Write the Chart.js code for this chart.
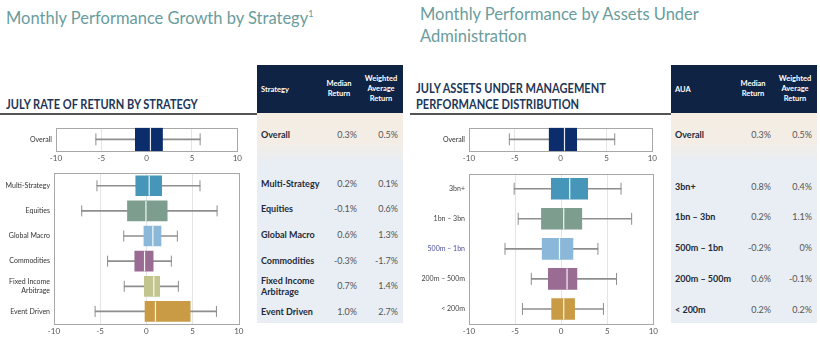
<!DOCTYPE html>
<html>
<head>
<meta charset="utf-8">
<script src="https://cdn.jsdelivr.net/npm/chart.js@4.4.1/dist/chart.umd.min.js"></script>
<style>
  body { margin: 0; background: #fff; overflow: hidden; }
  #page { position: relative; width: 820px; height: 339px; font-family: Lato, "Open Sans", sans-serif; }
  .title { position: absolute; color: #6a9c9d; font-size: 16.5px; font-weight: 400; line-height: 22px; white-space: nowrap; }
  .title sup { font-size: 9px; }
  .head { position: absolute; color: #1d3657; font-size: 13px; font-weight: 700; line-height: 16px; white-space: nowrap;
          transform: scaleX(0.85); transform-origin: left top; }
  .rule { position: absolute; height: 1.5px; background: #555; }
  canvas { position: absolute; }
  .tbl { position: absolute; width: 146px; }
  .thead { position: absolute; left: 0; top: 0; width: 100%; height: 48px; background: #0f2344; color: #fff; font-size: 7.5px; font-weight: 700; }
  .thead div { position: absolute; line-height: 10px; text-align: center; }
  .tbody { position: absolute; left: 0; top: 48px; width: 100%; height: 210px;
           background: linear-gradient(#f5ede3 0px, #f3ede6 30px, #e8eef4 50px, #e8eef4 100%); }
  .cell { position: absolute; font-size: 9px; line-height: 11px; white-space: nowrap; }
  .lab { left: 4px; font-weight: 700; color: #1e2b3a; }
  .val { color: #555; text-align: right; }
</style>
</head>
<body>
<div id="page">
  <div class="title" style="left:6px; top:3px">Monthly Performance Growth by Strategy<sup>1</sup></div>
  <div class="title" style="left:420px; top:3px">Monthly Performance by Assets Under<br>Administration</div>
  <div class="head" style="left:6px; top:96px">JULY RATE OF RETURN BY STRATEGY</div>
  <div class="head" style="left:416px; top:80px">JULY ASSETS UNDER MANAGEMENT<br>PERFORMANCE DISTRIBUTION</div>
  <div class="rule" style="left:0; top:113px; width:258px"></div>
  <div class="rule" style="left:410px; top:113px; width:262px"></div>

  <canvas id="c1"></canvas>
  <canvas id="c2"></canvas>
  <canvas id="c3"></canvas>
  <canvas id="c4"></canvas>

  <div class="tbl" id="t1" style="left:257px; top:65px"></div>
  <div class="tbl" id="t2" style="left:671px; top:65px"></div>
</div>

<script>
// overall distribution (both panels)
let overallLabel = ['Overall'];
let overallMin = [-5.6];
let overallQ1 = [-1.25];
let overallMed = [0.42];
let overallQ3 = [1.75];
let overallMax = [5.9];

// by strategy
let strategies = ['Multi-Strategy', 'Equities', 'Global Macro', 'Commodities', 'Fixed Income Arbitrage', 'Event Driven'];
let stratMin = [-5.35, -7.0, -2.45, -4.2, -2.4, -5.55];
let stratQ1 = [-1.15, -2.05, -0.27, -1.26, -0.23, -0.15];
let stratMed = [0.3, -0.05, 0.7, -0.2, 0.8, 0.98];
let stratQ3 = [1.65, 2.25, 1.58, 0.73, 1.44, 4.74];
let stratMax = [5.8, 7.65, 3.35, 2.7, 3.46, 7.58];
let stratColors = ['#4596b9', '#7d9e8e', '#8bb8d8', '#9a6b93', '#c3c58f', '#c99b45'];

// by assets under administration
let auaBands = ['3bn+', '1bn – 3bn', '500m – 1bn', '200m – 500m', '< 200m'];
let auaMin = [-5.1, -4.66, -6.09, -3.24, -4.2];
let auaQ1 = [-1.07, -2.14, -2.06, -1.39, -1.03];
let auaMed = [0.93, 0.28, -0.18, 0.64, 0.28];
let auaQ3 = [2.88, 2.24, 1.28, 1.71, 1.46];
let auaMax = [6.5, 7.65, 3.99, 6.01, 4.59];
let auaColors = ['#4596b9', '#7d9e8e', '#8bb8d8', '#9a6b93', '#c99b45'];

let xTicks = [-10, -5, 0, 5, 10];

// table figures
let stratTableMedian = ['0.3%', '0.2%', '-0.1%', '0.6%', '-0.3%', '0.7%', '1.0%'];
let stratTableWeighted = ['0.5%', '0.1%', '0.6%', '1.3%', '-1.7%', '1.4%', '2.7%'];
let auaTableMedian = ['0.3%', '0.8%', '0.2%', '-0.2%', '0.6%', '0.2%'];
let auaTableWeighted = ['0.5%', '0.4%', '1.1%', '0%', '-0.1%', '0.2%'];

const whiskerColor = '#8e8e8e';

const frame = {
  id: 'frame',
  beforeDatasetsDraw(chart) {
    const a = chart.chartArea, ctx = chart.ctx;
    ctx.save();
    ctx.strokeStyle = '#a8a8a8';
    ctx.lineWidth = 1;
    ctx.strokeRect(Math.round(a.left) + 0.5, Math.round(a.top) + 0.5, Math.round(a.right - a.left), Math.round(a.bottom - a.top));
    ctx.restore();
  }
};

function boxChart(id, pos, labels, mins, q1s, meds, q3s, maxs, colors, thick, capR, labelColor) {
  let cv = document.getElementById(id);
  cv.style.left = pos.left + 'px';
  cv.style.top = pos.top + 'px';
  cv.width = pos.w; cv.height = pos.h;
  cv.style.width = pos.w + 'px'; cv.style.height = pos.h + 'px';
  let lab = labels.map(s => s === 'Fixed Income Arbitrage' ? ['Fixed Income', 'Arbitrage'] : s);
  return new Chart(cv, {
    type: 'bar',
    data: {
      labels: lab,
      datasets: [
        { label: 'box', data: q1s.map((v, i) => [v, q3s[i]]), backgroundColor: colors, barThickness: thick, order: 2 },
        { label: 'whisker', data: mins.map((v, i) => [v, maxs[i]]), backgroundColor: whiskerColor, barThickness: 1, order: 4 },
        { type: 'scatter', label: 'lo', data: mins.map((v, i) => ({ x: v, y: lab[i] })), pointStyle: 'line', rotation: 90,
          radius: capR, borderColor: whiskerColor, borderWidth: 1, order: 3 },
        { type: 'scatter', label: 'hi', data: maxs.map((v, i) => ({ x: v, y: lab[i] })), pointStyle: 'line', rotation: 90,
          radius: capR, borderColor: whiskerColor, borderWidth: 1, order: 3 },
        { type: 'scatter', label: 'median', data: meds.map((v, i) => ({ x: v, y: lab[i] })), pointStyle: 'line', rotation: 90,
          radius: thick / 2, borderColor: 'rgba(255,255,255,0.9)', borderWidth: 1.2, order: 1 }
      ]
    },
    options: {
      indexAxis: 'y',
      responsive: false,
      animation: false,
      datasets: { bar: { grouped: false } },
      layout: { padding: pos.pad },
      plugins: { legend: { display: false }, tooltip: { enabled: false } },
      elements: { point: { hoverRadius: 0 } },
      scales: {
        x: {
          type: 'linear', min: -10, max: 10,
          afterBuildTicks: s => { s.ticks = xTicks.map(v => ({ value: v })); },
          afterFit: s => { s.height = pos.xh; },
          ticks: { font: { family: 'Lato', size: 8 }, color: '#555', padding: 3 },
          grid: { drawTicks: false, color: c => (c.tick && Math.abs(c.tick.value) === 10) ? 'rgba(0,0,0,0)' : '#e4e4e4' },
          border: { display: false }
        },
        y: {
          type: 'category',
          afterFit: s => { s.width = pos.yw; },
          ticks: { font: { family: 'Lato', size: 7 }, color: labelColor || '#333', padding: 4, autoSkip: false },
          grid: { display: false, drawTicks: false },
          border: { display: false }
        }
      }
    },
    plugins: [frame]
  });
}

boxChart('c1', { left: 0, top: 115, w: 250, h: 50, pad: { left: 0, right: 7, top: 4, bottom: 0 }, xh: 14, yw: 56 },
  overallLabel, overallMin, overallQ1, overallMed, overallQ3, overallMax, ['#0c2d6b'], 23, 6);
boxChart('c2', { left: 0, top: 162, w: 250, h: 175, pad: { left: 0, right: 8, top: 5, bottom: 0 }, xh: 13, yw: 54 },
  strategies, stratMin, stratQ1, stratMed, stratQ3, stratMax, stratColors, 20, 5.5);
boxChart('c3', { left: 410, top: 115, w: 255, h: 50, pad: { left: 0, right: 8, top: 4, bottom: 0 }, xh: 14, yw: 59 },
  overallLabel, overallMin, overallQ1, overallMed, overallQ3, overallMax, ['#0c2d6b'], 23, 6);
boxChart('c4', { left: 410, top: 162, w: 255, h: 175, pad: { left: 0, right: 8, top: 5, bottom: 0 }, xh: 13, yw: 59 },
  auaBands, auaMin, auaQ1, auaMed, auaQ3, auaMax, auaColors, 21, 6,
  c => c.tick && c.tick.label === '500m – 1bn' ? '#4b4fa0' : '#444');

function buildTable(id, firstCol, rows, med, wavg, rowY) {
  let t = document.getElementById(id);
  let h = '<div class="thead">' +
    '<div style="left:4px; top:20px; text-align:left">' + firstCol + '</div>' +
    '<div style="left:62px; width:40px; top:14px">Median<br>Return</div>' +
    '<div style="left:103px; width:42px; top:9px">Weighted<br>Average<br>Return</div>' +
    '</div><div class="tbody"></div>';
  rows.forEach((r, i) => {
    let y = rowY[i] - 65;
    let txt = r === 'Fixed Income Arbitrage' ? 'Fixed Income<br>Arbitrage' : r;
    let two = txt.indexOf('<br>') >= 0;
    h += '<div class="cell lab" style="top:' + (y - (two ? 11 : 5.5)) + 'px">' + txt + '</div>';
    h += '<div class="cell val" style="right:46px; top:' + (y - 5.5) + 'px">' + med[i] + '</div>';
    h += '<div class="cell val" style="right:5px; top:' + (y - 5.5) + 'px">' + wavg[i] + '</div>';
  });
  t.innerHTML = h;
}

buildTable('t1', 'Strategy', ['Overall'].concat(strategies), stratTableMedian, stratTableWeighted,
  [134, 183, 208.5, 234, 260, 285.5, 311]);
buildTable('t2', 'AUA', ['Overall'].concat(auaBands), auaTableMedian, auaTableWeighted,
  [134, 186, 216.5, 247, 278, 309]);
</script>
</body>
</html>
